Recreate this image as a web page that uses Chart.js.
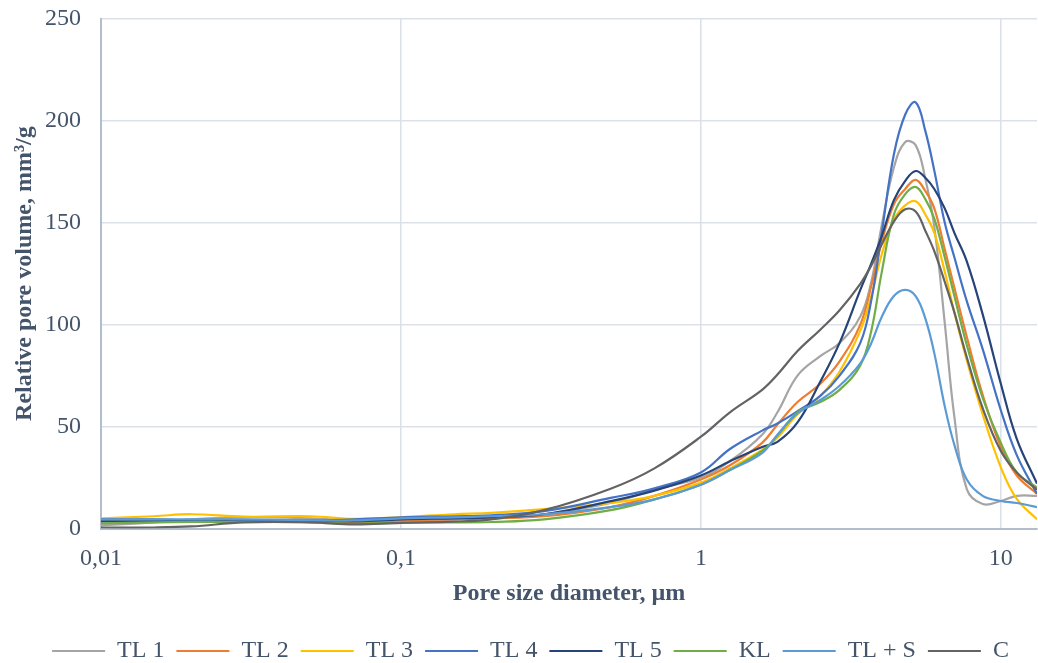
<!DOCTYPE html>
<html>
<head>
<meta charset="utf-8">
<script src="https://cdn.jsdelivr.net/npm/chart.js@4.4.1/dist/chart.umd.min.js"></script>
<style>
  html, body { margin: 0; padding: 0; background: #ffffff; }
  #wrap { width: 1038px; height: 663px; }
</style>
</head>
<body>
<div id="wrap"><canvas id="poreChart" width="1038" height="663"></canvas></div>
<script>
// pore diameters (µm) shared by every series
const diameters = [0.01, 0.015, 0.02, 0.03, 0.05, 0.07, 0.1, 0.15, 0.2, 0.3, 0.5, 0.7, 1, 1.25, 1.6, 1.8, 2.1, 2.5, 2.9, 3.4, 3.7, 4, 4.4, 4.8, 5.2, 5.6, 6, 6.5, 7, 7.7, 8.7, 10, 11.3, 13.2];

// relative pore volume, mm3/g
const tl1 = [1.5, 3, 4.5, 5.5, 5, 4, 4, 4.5, 5.5, 7, 12.5, 19, 25, 33, 46, 57, 75, 84.5, 91, 104, 121, 148, 177, 189.5, 188, 171.5, 148, 101, 54.7, 19.3, 12, 13.5, 16, 16];
const tl2 = [4, 3.5, 4, 4, 3.5, 3, 4, 4.5, 5, 6, 10.5, 16, 24, 31, 42, 51, 62, 71, 82, 100, 119, 140, 159, 166.5, 171, 165.5, 157, 137, 118, 94, 65.5, 40, 26, 17];
const tl3 = [5, 6, 7, 5.8, 6, 4.7, 5.5, 7, 7.7, 9.5, 12.5, 16, 22.5, 29.5, 38.5, 44.5, 56, 65, 77, 97, 114, 134, 151.5, 158.5, 160.5, 154, 145, 126, 106, 82.5, 56, 30, 14.5, 4.5];
const tl4 = [4.5, 4.5, 4, 4, 4, 4.5, 5.5, 6, 6.5, 8.5, 15, 19.7, 27.5, 39, 48, 51.5, 57.5, 65, 75, 91, 112, 144, 183.5, 203, 209, 195, 175.5, 150, 133, 111.5, 88, 58, 36, 17];
const tl5 = [3.5, 3.5, 3.8, 3.5, 3.5, 3.5, 4.5, 5, 5.5, 7, 13.4, 18.6, 26, 33, 40, 42.5, 52, 72, 91, 117, 130, 143, 161, 170.5, 175.3, 172, 166.5, 157, 145, 131, 105, 71, 44, 22];
const kl = [2.5, 3, 3.2, 3.2, 3, 2.3, 2.9, 3, 3.2, 4.5, 9, 14.3, 21.5, 28.7, 38, 45.6, 57, 62, 68, 80, 97, 125, 154, 164, 167.5, 161.5, 152, 133, 114, 90, 64, 42, 27.5, 20];
const tlS = [4.5, 4.5, 4.5, 4.5, 4, 4, 5, 5.5, 6, 7, 10.5, 14.3, 21.5, 28.7, 37, 46, 56.5, 63, 70, 81, 91, 103.5, 114, 117, 114, 103, 86, 60, 41, 24, 16, 13.5, 12.5, 10.5];
const cRef = [0.5, 0.5, 1, 3, 3, 2, 2.8, 3.4, 4.5, 9, 19.5, 29.5, 45, 57, 68, 75.5, 87, 97.5, 107, 120, 129, 139, 150.5, 156.5, 155.5, 146, 136, 121, 106, 84, 59, 38, 27.5, 19];

const seriesNames = ['TL 1', 'TL 2', 'TL 3', 'TL 4', 'TL 5', 'KL', 'TL + S', 'C'];
const seriesValues = [tl1, tl2, tl3, tl4, tl5, kl, tlS, cRef];
const seriesColors = ['#a5a5a5', '#ed7d31', '#ffc000', '#4472c4', '#264478', '#70ad47', '#5b9bd5', '#636363'];

const xTickValues = [0.01, 0.1, 1, 10];
const xTickLabels = ['0,01', '0,1', '1', '10'];

const textColor = '#44546a';
const gridColor = '#dce1e9';
const axisColor = '#b3bdcd';
const fontFamily = "'Liberation Serif', 'Times New Roman', serif";

const datasets = seriesNames.map((name, i) => ({
    label: name,
    data: diameters.map((d, k) => ({ x: d, y: seriesValues[i][k] })),
    borderColor: seriesColors[i],
    backgroundColor: seriesColors[i],
    borderWidth: 2.2,
    pointRadius: 0,
    tension: 0.4,
    // later series sit on top
    order: seriesNames.length - i
}));

// nudge the legend row a little to the right of centre
const legendShift = {
    id: 'legendShift',
    afterLayout(chart) {
        chart.legend.left += 12;
        chart.legend.right += 12;
    }
};

new Chart(document.getElementById('poreChart'), {
    type: 'line',
    data: { datasets: datasets },
    plugins: [legendShift],
    options: {
        responsive: false,
        animation: false,
        devicePixelRatio: 1,
        layout: { padding: { left: 0, right: 1, top: 18.7, bottom: -10 } },
        plugins: {
            tooltip: { enabled: false },
            legend: {
                position: 'bottom',
                labels: {
                    usePointStyle: true,
                    pointStyle: 'line',
                    pointStyleWidth: 53,
                    padding: 12,
                    color: textColor,
                    font: { family: fontFamily, size: 24 },
                    sort: (a, b) => a.datasetIndex - b.datasetIndex
                }
            }
        },
        scales: {
            x: {
                type: 'logarithmic',
                min: 0.01,
                max: 13.2,
                afterBuildTicks: (scale) => {
                    scale.ticks = xTickValues.map(v => ({ value: v }));
                },
                afterFit: (scale) => { scale.height = 98.5; },
                ticks: {
                    color: textColor,
                    font: { family: fontFamily, size: 24 },
                    padding: 16,
                    maxRotation: 0,
                    autoSkip: false,
                    callback: (value, index) => xTickLabels[index]
                },
                grid: { color: gridColor, lineWidth: 1.6, drawTicks: false },
                border: { color: axisColor, width: 2 },
                title: {
                    display: true,
                    text: 'Pore size diameter, µm',
                    color: textColor,
                    font: { family: fontFamily, size: 24, weight: 'bold' },
                    padding: { top: 0, bottom: 19 }
                }
            },
            y: {
                min: 0,
                max: 250,
                afterFit: (scale) => {
                    scale.width = 101;
                    scale.paddingTop = 0;
                    scale.paddingBottom = 0;
                },
                ticks: {
                    stepSize: 50,
                    color: textColor,
                    font: { family: fontFamily, size: 24 },
                    padding: 20
                },
                grid: { color: gridColor, lineWidth: 1.6, drawTicks: false },
                border: { color: axisColor, width: 2 },
                title: {
                    display: true,
                    text: 'Relative pore volume, mm³/g',
                    color: textColor,
                    font: { family: fontFamily, size: 24, weight: 'bold' },
                    padding: { top: 10, bottom: 0 }
                }
            }
        }
    }
});
</script>
</body>
</html>
